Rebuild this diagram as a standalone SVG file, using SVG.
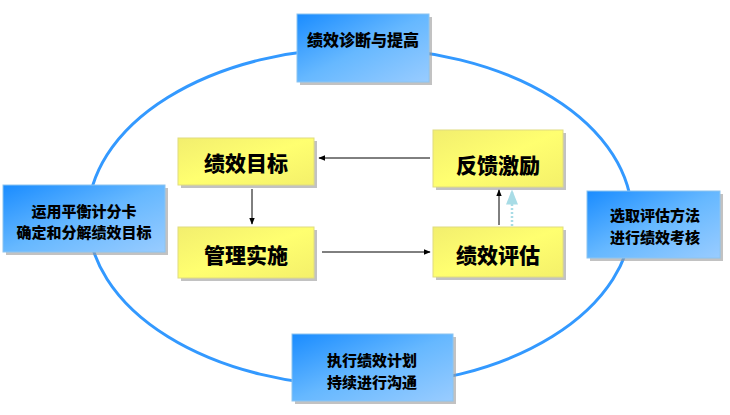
<svg xmlns="http://www.w3.org/2000/svg" width="730" height="415" viewBox="0 0 730 415">
<defs>
<linearGradient id="gb" x1="0" y1="0" x2="1" y2="1">
<stop offset="0" stop-color="#1a8cff"/>
<stop offset="0.5" stop-color="#66b8ff"/>
<stop offset="1" stop-color="#99ccff"/>
</linearGradient>
<linearGradient id="gy" x1="0" y1="0" x2="1" y2="1">
<stop offset="0" stop-color="#f2ee6e"/>
<stop offset="0.5" stop-color="#ffff70"/>
<stop offset="1" stop-color="#f4f06a"/>
</linearGradient>
<marker id="ah" viewBox="0 0 10 10" refX="9" refY="5" markerWidth="7" markerHeight="7" orient="auto-start-reverse">
<path d="M0,1 L10,5 L0,9 Z" fill="#000"/>
</marker>
<marker id="ahc" viewBox="0 0 10 10" refX="9" refY="5" markerWidth="6" markerHeight="6" orient="auto">
<path d="M0,1 L10,5 L0,9 Z" fill="#a8dce6"/>
</marker>
</defs>
<style>
.sh{fill:#9a9a9a;opacity:0.6}
.bb{fill:url(#gb);stroke:#8cc4f0;stroke-width:1}
.yb{fill:url(#gy);stroke:#e0dc80;stroke-width:1}
.t{font-family:"Noto Sans CJK SC","Noto Sans CJK JP",sans-serif;font-weight:900;fill:#000;text-anchor:middle;dominant-baseline:central}
.s{font-size:16px}
.m{font-size:15px}
.l{font-size:21px}
.c{stroke:#000;stroke-width:1;fill:none}
</style>
<rect width="730" height="415" fill="#fff"/>
<ellipse cx="360" cy="217" rx="272" ry="169" fill="none" stroke="#3399ff" stroke-width="3"/>
<g id="n-top">
<rect class="sh" x="300" y="17" width="132" height="68"/>
<rect class="bb" x="297" y="14" width="132" height="68"/>
<text class="t s" x="363" y="39">绩效诊断与提高</text>
</g>
<g id="n-left">
<rect class="sh" x="6" y="188" width="162" height="67"/>
<rect class="bb" x="3" y="185" width="162" height="67"/>
<text class="t m" x="84" y="210">运用平衡计分卡</text>
<text class="t m" x="84" y="231">确定和分解绩效目标</text>
</g>
<g id="n-right">
<rect class="sh" x="590" y="194" width="133" height="67"/>
<rect class="bb" x="587" y="191" width="133" height="67"/>
<text class="t m" x="655" y="214">选取评估方法</text>
<text class="t m" x="655" y="236">进行绩效考核</text>
</g>
<g id="n-bottom">
<rect class="sh" x="295" y="337" width="161" height="67"/>
<rect class="bb" x="292" y="334" width="161" height="67"/>
<text class="t m" x="372" y="359">执行绩效计划</text>
<text class="t m" x="372" y="381">持续进行沟通</text>
</g>
<g id="n-goal">
<rect class="sh" x="181" y="141" width="136" height="47"/>
<rect class="yb" x="178" y="138" width="136" height="47"/>
<text class="t l" x="246" y="162">绩效目标</text>
</g>
<g id="n-impl">
<rect class="sh" x="181" y="230" width="136" height="51"/>
<rect class="yb" x="178" y="227" width="136" height="51"/>
<text class="t l" x="246" y="254">管理实施</text>
</g>
<g id="n-feedback">
<rect class="sh" x="436" y="133" width="130" height="57"/>
<rect class="yb" x="433" y="130" width="130" height="57"/>
<text class="t l" x="498" y="164">反馈激励</text>
</g>
<g id="n-eval">
<rect class="sh" x="436" y="230" width="130" height="50"/>
<rect class="yb" x="433" y="227" width="130" height="50"/>
<text class="t l" x="498" y="254">绩效评估</text>
</g>
<g id="connectors">
<line class="c" x1="430" y1="158" x2="319" y2="158" marker-end="url(#ah)"/>
<line class="c" x1="252" y1="189" x2="252" y2="224" marker-end="url(#ah)"/>
<line class="c" x1="322" y1="252" x2="430" y2="252" marker-end="url(#ah)"/>
<line class="c" x1="499" y1="225" x2="499" y2="190" marker-end="url(#ah)"/>
<line x1="512" y1="226" x2="512" y2="191" stroke="#a8dce6" stroke-width="2.5" stroke-dasharray="2 2" marker-end="url(#ahc)"/>
</g>
</svg>
